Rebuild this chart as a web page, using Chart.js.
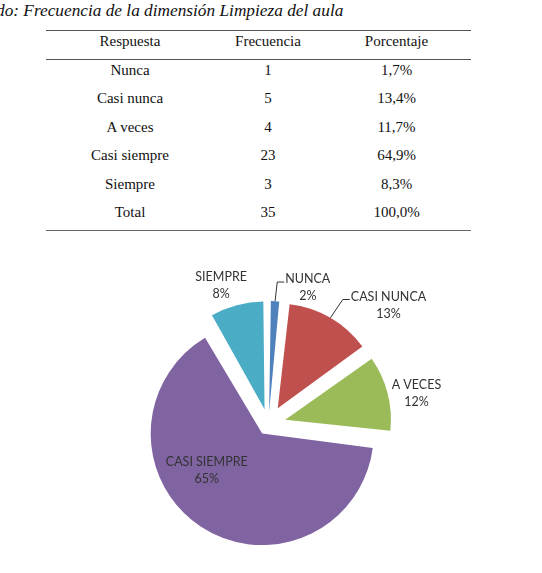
<!DOCTYPE html>
<html>
<head>
<meta charset="utf-8">
<script src="https://cdn.jsdelivr.net/npm/chart.js@4/dist/chart.umd.min.js"></script>
<style>
  body { margin: 0; width: 542px; height: 573px; background: #fff; position: relative; overflow: hidden; }
  #title { position: absolute; left: -4px; top: 1px; font: italic 17.3px "Liberation Serif", serif; color: #111; white-space: nowrap; }
  #tabla { position: absolute; left: 46px; top: 30px; width: 425px; border-collapse: collapse; font: 15px "Liberation Serif", serif; color: #111; }
  #tabla th, #tabla td { text-align: center; vertical-align: top; padding: 1px 0 0 0; line-height: 18px; font-weight: normal; }
  #tabla thead tr { height: 29px; border-top: 1px solid #555; border-bottom: 1px solid #555; }
  #tabla tbody tr { height: 28.5px; }
  #tabla tbody tr:last-child { border-bottom: 1.5px solid #666; }
  #pie { position: absolute; left: 0; top: 240px; }
</style>
</head>
<body>
<div id="title">do: Frecuencia de la dimensión Limpieza del aula</div>
<table id="tabla">
  <colgroup><col style="width:168px"><col style="width:108px"><col style="width:149px"></colgroup>
  <thead><tr><th>Respuesta</th><th>Frecuencia</th><th>Porcentaje</th></tr></thead>
  <tbody></tbody>
</table>
<canvas id="pie" width="542" height="333"></canvas>
<script>
// datos del cuadro
const respuestas = ['Nunca', 'Casi nunca', 'A veces', 'Casi siempre', 'Siempre'];
const frecuencias = [1, 5, 4, 23, 3];
const porcentajes = [1.7, 13.4, 11.7, 64.9, 8.3];
const totalFrecuencia = 35;

// etiquetas del gráfico
const etiquetasPie = ['NUNCA', 'CASI NUNCA', 'A VECES', 'CASI SIEMPRE', 'SIEMPRE'];
const colores = ['#4F81BD', '#C0504D', '#9BBB59', '#8064A2', '#4BACC6'];

const fmt = v => v.toFixed(1).replace('.', ',') + '%';

// tabla
const tbody = document.querySelector('#tabla tbody');
respuestas.forEach((r, i) => {
  const tr = document.createElement('tr');
  tr.innerHTML = '<td>' + r + '</td><td>' + frecuencias[i] + '</td><td>' + fmt(porcentajes[i]) + '</td>';
  tbody.appendChild(tr);
});
const totalPct = porcentajes.reduce((a, b) => a + b, 0);
const trTotal = document.createElement('tr');
trTotal.innerHTML = '<td>Total</td><td>' + totalFrecuencia + '</td><td>' + fmt(totalPct) + '</td>';
tbody.appendChild(trTotal);

// separación de cada porción (px)
const separacion = 23;
// chart.js desplaza offset/4 * (1 + fix), se compensa para que todas se separen igual
function offsetPara(i) {
  const circ = 2 * Math.PI * porcentajes[i] / totalPct;
  const fix = 1 - Math.sin(Math.min(Math.PI, circ));
  return separacion * 4 / (1 + fix);
}

// posición de etiquetas: [distancia al centro, giro en grados respecto al ángulo medio]
const posEtiquetas = [[142, 13], [169, 15], [151, 3], [77, 20], [146, -4]];
const conGuia = [true, true, false, false, false];

const etiquetasPlugin = {
  id: 'etiquetas',
  afterDraw(chart) {
    const ctx = chart.ctx;
    const meta = chart.getDatasetMeta(0);
    ctx.save();
    ctx.font = '12.5px Lato';
    ctx.fillStyle = '#333';
    ctx.strokeStyle = '#333';
    ctx.lineWidth = 1;
    ctx.textAlign = 'center';
    ctx.textBaseline = 'middle';
    const lh = 17;
    meta.data.forEach((arc, i) => {
      const mid = (arc.startAngle + arc.endAngle) / 2;
      const [dist, giro] = posEtiquetas[i];
      const a = mid + giro * Math.PI / 180;
      const cx = arc.x + Math.cos(a) * dist;
      const cy = arc.y + Math.sin(a) * dist;
      const lineas = [etiquetasPie[i], Math.round(porcentajes[i]) + '%'];
      const y1 = cy - lh / 2;
      lineas.forEach((t, k) => ctx.fillText(t, cx, y1 + k * lh));
      if (conGuia[i]) {
        const w = ctx.measureText(lineas[0]).width;
        const left = cx - w / 2;
        const r = arc.outerRadius + separacion;
        ctx.beginPath();
        ctx.moveTo(arc.x + Math.cos(mid) * r, arc.y + Math.sin(mid) * r);
        ctx.lineTo(left - 8, y1 + 3);
        ctx.lineTo(left - 1, y1 + 3);
        ctx.stroke();
      }
    });
    ctx.restore();
  }
};

new Chart(document.getElementById('pie').getContext('2d'), {
  type: 'pie',
  data: {
    labels: etiquetasPie,
    datasets: [{
      data: porcentajes,
      backgroundColor: colores,
      borderWidth: 0,
      offset: ctx => offsetPara(ctx.dataIndex),
      radius: 100
    }]
  },
  options: {
    responsive: false,
    animation: false,
    layout: { padding: { left: 0, right: 5, top: 35, bottom: 0 } },
    plugins: { legend: { display: false }, tooltip: { enabled: false } }
  },
  plugins: [etiquetasPlugin]
});
</script>
</body>
</html>
